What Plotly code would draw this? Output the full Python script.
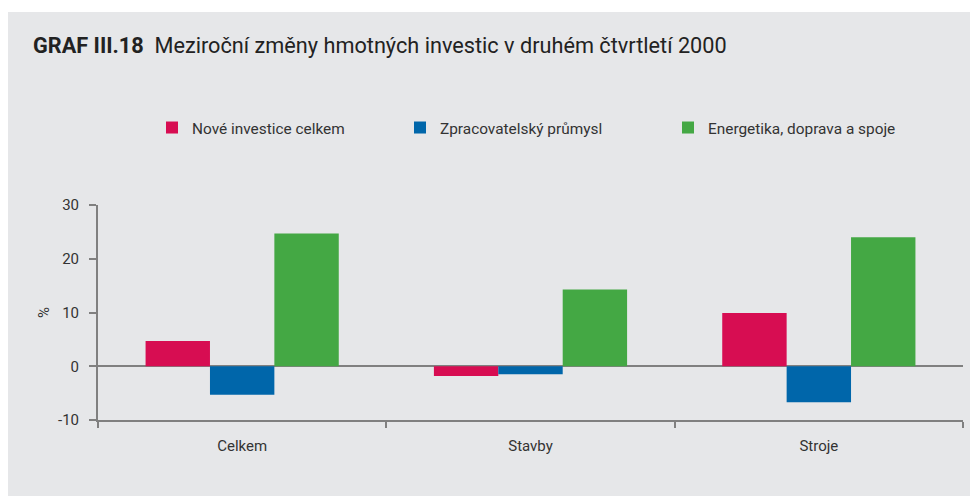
import plotly.graph_objects as go

categories = ["Celkem", "Stavby", "Stroje"]
series_names = ["Nové investice celkem", "Zpracovatelský průmysl", "Energetika, doprava a spoje"]
nove_investice = [4.7, -1.8, 9.9]
zpracovatelsky = [-5.3, -1.5, -6.7]
energetika = [24.7, 14.3, 24.0]
y_ticks = [-10, 0, 10, 20, 30]
y_tick_text = ["-10", "0", "10", "20", "30"]

colors = ["#D70D52", "#0066AA", "#44A844"]
values = [nove_investice, zpracovatelsky, energetika]
legend_ids = ["legend", "legend2", "legend3"]

FONT = "Roboto, Open Sans, sans-serif"
GRAY_BG = "#E6E7E9"
AXIS = "#808080"
TXT = "#333333"

# page has an 8px body margin; work in screen pixels and convert
OFF = 8
W, H = 978 - OFF, 496 - OFF
L, R, T, B = 98 - OFF, 15, 205 - OFF, 496 - 420
pw = W - L - R
ph = H - T - B

def px_x(x):
    return (x - OFF - L) / pw

def px_y(y):
    return (H - B - (y - OFF)) / ph

fig = go.Figure()
for name, vals, col, lg in zip(series_names, values, colors, legend_ids):
    fig.add_trace(go.Bar(
        x=categories, y=vals, name=name,
        marker=dict(color=col, line=dict(width=0)),
        legend=lg,
    ))

legend_common = dict(
    orientation="h", yanchor="middle", xanchor="left",
    bgcolor="rgba(0,0,0,0)", borderwidth=0,
    font=dict(family=FONT, size=15.4, color=TXT),
)
fig.update_layout(
    width=W, height=H,
    margin=dict(l=L, r=R, t=T, b=B, autoexpand=False),
    paper_bgcolor="white",
    plot_bgcolor="rgba(0,0,0,0)",
    barmode="group",
    bargap=0.33,
    bargroupgap=0,
    showlegend=True,
    legend=dict(x=px_x(152), y=px_y(128), **legend_common),
    legend2=dict(x=px_x(400), y=px_y(128), **legend_common),
    legend3=dict(x=px_x(668), y=px_y(128), **legend_common),
    title=dict(
        text="<b>GRAF III.18</b>&nbsp; Meziroční změny hmotných investic v druhém čtvrtletí 2000",
        x=(33 - OFF) / W, xanchor="left", xref="container",
        y=1 - (45 - OFF) / H, yanchor="middle", yref="container",
        font=dict(family=FONT, size=21.7, color="#222222"),
    ),
    font=dict(family=FONT, size=15, color=TXT),
    shapes=[dict(
        type="rect", xref="paper", yref="paper", layer="below",
        x0=px_x(7), x1=px_x(990), y0=px_y(510), y1=px_y(12),
        fillcolor=GRAY_BG, line=dict(width=0),
    )],
)

fig.update_xaxes(
    showline=True, linecolor=AXIS, linewidth=2,
    ticks="outside", tickson="boundaries", ticklen=6, tickwidth=2, tickcolor=AXIS,
    showgrid=False, zeroline=False,
    tickfont=dict(family=FONT, size=15, color=TXT),
    ticklabelstandoff=11,
)
fig.update_yaxes(
    range=[-10, 30], tickvals=y_ticks, ticktext=y_tick_text,
    showline=True, linecolor=AXIS, linewidth=2,
    ticks="outside", ticklen=7, tickwidth=2, tickcolor=AXIS,
    showgrid=False,
    zeroline=True, zerolinecolor=AXIS, zerolinewidth=1.5,
    tickfont=dict(family=FONT, size=15, color=TXT),
    ticklabelstandoff=7,
    title=dict(text="%", font=dict(family=FONT, size=15, color=TXT), standoff=5),
)

fig.write_html("out.html")
